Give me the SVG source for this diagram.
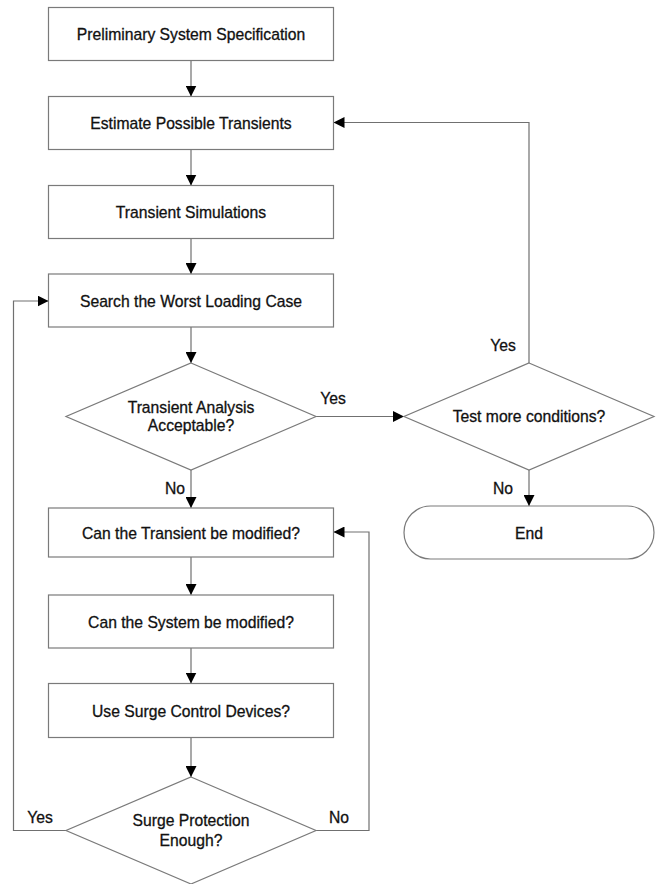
<svg xmlns="http://www.w3.org/2000/svg" width="658" height="884" viewBox="0 0 658 884">
<defs>
<style>
.n{fill:#fff;stroke:#7a7a7a;stroke-width:1.2}
.c{fill:none;stroke:#707070;stroke-width:1.2}
text{font-family:"Liberation Sans",Arial,sans-serif;font-size:15.7px;fill:#111;stroke:#111;stroke-width:0.3;text-anchor:middle}
</style>
<marker id="ah" markerUnits="userSpaceOnUse" markerWidth="11" markerHeight="11" viewBox="0 0 11 11" refX="11" refY="5.5" orient="auto">
<path d="M0,0 L11,5.5 L0,11 Z" fill="#000"/>
</marker>
</defs>
<rect width="658" height="884" fill="#fff"/>
<g id="connectors">
<path class="c" d="M191,60.5 V96.5" marker-end="url(#ah)"/>
<path class="c" d="M191,149.5 V185.5" marker-end="url(#ah)"/>
<path class="c" d="M191,238.5 V274" marker-end="url(#ah)"/>
<path class="c" d="M191,327 V363" marker-end="url(#ah)"/>
<path class="c" d="M316,416.5 H404" marker-end="url(#ah)"/>
<path class="c" d="M191,470 V508" marker-end="url(#ah)"/>
<path class="c" d="M529,363 V122.5 H333.5" marker-end="url(#ah)"/>
<path class="c" d="M529,470 V506" marker-end="url(#ah)"/>
<path class="c" d="M191,557 V595" marker-end="url(#ah)"/>
<path class="c" d="M191,648 V683.5" marker-end="url(#ah)"/>
<path class="c" d="M191,737.5 V777" marker-end="url(#ah)"/>
<path class="c" d="M66,830.5 H13.5 V301 H48.5" marker-end="url(#ah)"/>
<path class="c" d="M316,830.5 H369 V532 H333.5" marker-end="url(#ah)"/>
<text x="333" y="403.5">Yes</text>
<text x="503" y="350.5">Yes</text>
<text x="175" y="493.5">No</text>
<text x="503" y="493.5">No</text>
<text x="40" y="822.5">Yes</text>
<text x="339" y="822.5">No</text>
</g>
<g id="n1"><rect class="n" x="48.5" y="7.5" width="285" height="53"/><text x="191" y="40">Preliminary System Specification</text></g>
<g id="n2"><rect class="n" x="48.5" y="96.5" width="285" height="53"/><text x="191" y="129">Estimate Possible Transients</text></g>
<g id="n3"><rect class="n" x="48.5" y="185.5" width="285" height="53"/><text x="191" y="218">Transient Simulations</text></g>
<g id="n4"><rect class="n" x="48.5" y="274" width="285" height="53"/><text x="191" y="306.5">Search the Worst Loading Case</text></g>
<g id="d1"><polygon class="n" points="191,363 316,416.5 191,470 66,416.5"/><text x="191" y="412.5">Transient Analysis</text><text x="191" y="430.5">Acceptable?</text></g>
<g id="d2"><polygon class="n" points="529,363 654,416.5 529,470 404,416.5"/><text x="529" y="422">Test more conditions?</text></g>
<g id="end"><rect class="n" x="404" y="506" width="250" height="53" rx="26.5" ry="26.5"/><text x="529" y="538.5">End</text></g>
<g id="n5"><rect class="n" x="48.5" y="508" width="285" height="49"/><text x="191" y="538.5">Can the Transient be modified?</text></g>
<g id="n6"><rect class="n" x="48.5" y="595" width="285" height="53"/><text x="191" y="627.5">Can the System be modified?</text></g>
<g id="n7"><rect class="n" x="48.5" y="683.5" width="285" height="54"/><text x="191" y="716.5">Use Surge Control Devices?</text></g>
<g id="d3"><polygon class="n" points="191,777 316,830.5 191,884 66,830.5"/><text x="191" y="826">Surge Protection</text><text x="191" y="845.5">Enough?</text></g>
</svg>
